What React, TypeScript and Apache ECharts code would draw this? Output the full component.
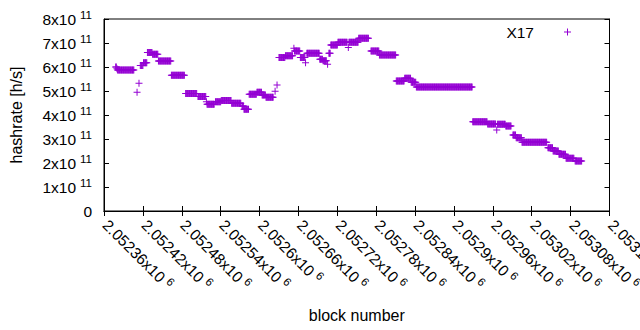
import React, { useEffect, useRef } from 'react';
import * as echarts from 'echarts';

// x axis (block number)
const X_MIN = 2052360;
const X_MAX = 2053140;
const X_STEP = 60;
// y axis (hashrate, in units of 1e11 h/s)
const Y_UNIT = 1e11;
const Y_MIN = 0;
const Y_MAX = 8;
const Y_STEP = 1;

const SERIES_NAME = 'X17';
const FIRST_BLOCK = 2052360;

// run-length encoded readings: block offset from FIRST_BLOCK, number of consecutive blocks, hashrate (x1e11)
const runStart = [18, 20, 21, 51, 54, 56, 61, 67, 75, 84, 104, 126, 145, 158, 159, 172, 181, 197, 213, 216, 224, 236, 244, 250, 264, 267, 270, 280, 293, 294, 303, 311, 313, 333, 338, 345, 347, 350, 361, 377, 378, 393, 412, 425, 451, 464, 474, 482, 569, 592, 606, 607, 620, 631, 636, 645, 685, 693, 702, 713, 727];
const runCount = [2, 1, 26, 1, 1, 5, 6, 8, 9, 20, 21, 18, 13, 1, 12, 9, 16, 15, 3, 8, 12, 8, 6, 12, 1, 1, 10, 12, 1, 9, 8, 1, 20, 5, 6, 1, 3, 11, 15, 1, 15, 16, 13, 26, 13, 10, 8, 87, 23, 13, 1, 13, 9, 5, 9, 39, 8, 9, 11, 13, 11];
const runValue = [6.0, 5.93, 5.87, 4.95, 5.32, 6.06, 6.18, 6.6, 6.53, 6.25, 5.66, 4.9, 4.77, 4.55, 4.45, 4.55, 4.6, 4.49, 4.38, 4.24, 4.86, 4.95, 4.83, 4.74, 4.99, 5.25, 6.4, 6.47, 6.78, 6.67, 6.4, 6.18, 6.57, 6.32, 6.26, 6.11, 6.57, 6.92, 7.03, 6.81, 7.03, 7.2, 6.67, 6.5, 5.42, 5.53, 5.36, 5.17, 3.72, 3.63, 3.37, 3.61, 3.54, 3.17, 3.05, 2.86, 2.64, 2.5, 2.36, 2.2, 2.08];

const PLUS = 'path://M3,0H4V3H7V4H4V7H3V4H0V3H3Z';
const PURPLE = '#9400D3';
const FONT = 'Liberation Sans, Arial, sans-serif';
const FS = 15.5;

function buildData(): number[][] {
  const out: number[][] = [];
  for (let i = 0; i < runStart.length; i++) {
    for (let k = 0; k < runCount[i]; k++) {
      out.push([FIRST_BLOCK + runStart[i] + k, runValue[i] * Y_UNIT]);
    }
  }
  return out;
}

const richY = {
  a: { fontSize: FS, fontFamily: FONT, color: '#000', lineHeight: 16, verticalAlign: 'bottom' as const },
  b: { fontSize: 11.5, fontFamily: FONT, color: '#000', lineHeight: 16, verticalAlign: 'bottom' as const, padding: [0, 0, 6, 4] },
};
const richX = {
  a: { fontSize: FS, fontFamily: FONT, color: '#000', lineHeight: 16, verticalAlign: 'bottom' as const, padding: [0, 0, 0, 2] },
  b: { fontSize: 11.5, fontFamily: FONT, color: '#000', lineHeight: 16, verticalAlign: 'bottom' as const, padding: [0, 0, 6, 4] },
};

export default function App() {
  const ref = useRef<HTMLDivElement>(null);
  useEffect(() => {
    if (!ref.current) return;
    const chart = echarts.init(ref.current, undefined, { renderer: 'svg' });
    const tickStyle = { inside: true, length: 5, lineStyle: { color: '#000', width: 1 } };
    const lineStyle = { show: true, lineStyle: { color: '#000', width: 1 } };
    chart.setOption({
      animation: false,
      textStyle: { fontFamily: FONT },
      grid: {
        left: 104, right: 30.5, top: 19, bottom: 119,
        show: true, borderColor: '#000', borderWidth: 1,
        containLabel: false, outerBoundsMode: 'none',
      },
      legend: {
        data: [SERIES_NAME],
        right: 69,
        top: 24,
        padding: 0,
        align: 'right',
        itemWidth: 7,
        itemHeight: 7,
        icon: PLUS,
        textStyle: { fontSize: FS, color: '#000', fontFamily: FONT, padding: [0, 25, 0, 0] },
        selectedMode: false,
      },
      xAxis: [
        {
          type: 'value',
          min: X_MIN,
          max: X_MAX,
          interval: X_STEP,
          position: 'bottom',
          name: 'block number',
          nameLocation: 'middle',
          nameGap: 96,
          nameTextStyle: { fontSize: 16, color: '#000', fontFamily: FONT },
          axisLine: lineStyle,
          axisTick: tickStyle,
          splitLine: { show: false },
          axisLabel: {
            rotate: -45,
            margin: 10,
            formatter: (v: number) => `{a|${parseFloat((v / 1e6).toFixed(6))}x10}{b|6}`,
            rich: richX,
          },
        },
        {
          type: 'value',
          min: X_MIN,
          max: X_MAX,
          interval: X_STEP,
          position: 'top',
          axisLine: lineStyle,
          axisTick: tickStyle,
          axisLabel: { show: false },
          splitLine: { show: false },
        },
      ],
      yAxis: [
        {
          type: 'value',
          min: Y_MIN * Y_UNIT,
          max: Y_MAX * Y_UNIT,
          interval: Y_STEP * Y_UNIT,
          position: 'left',
          name: 'hashrate [h/s]',
          nameLocation: 'middle',
          nameGap: 80,
          nameRotate: 90,
          nameTextStyle: { fontSize: 16, color: '#000', fontFamily: FONT },
          axisLine: lineStyle,
          axisTick: tickStyle,
          splitLine: { show: false },
          axisLabel: {
            margin: 12,
            formatter: (v: number) => (v === 0 ? '{a|0}' : `{a|${Math.round(v / Y_UNIT)}x10}{b|11}`),
            rich: richY,
          },
        },
        {
          type: 'value',
          min: Y_MIN * Y_UNIT,
          max: Y_MAX * Y_UNIT,
          interval: Y_STEP * Y_UNIT,
          position: 'right',
          axisLine: lineStyle,
          axisTick: tickStyle,
          axisLabel: { show: false },
          splitLine: { show: false },
        },
      ],
      series: [
        {
          name: SERIES_NAME,
          type: 'scatter',
          xAxisIndex: 0,
          yAxisIndex: 0,
          symbol: PLUS,
          symbolSize: 7,
          itemStyle: { color: PURPLE, opacity: 1 },
          emphasis: { disabled: true },
          data: buildData(),
        },
      ],
    });
    return () => chart.dispose();
  }, []);
  return <div ref={ref} style={{ width: 640, height: 330, position: 'absolute', left: 0, top: 0 }} />;
}
